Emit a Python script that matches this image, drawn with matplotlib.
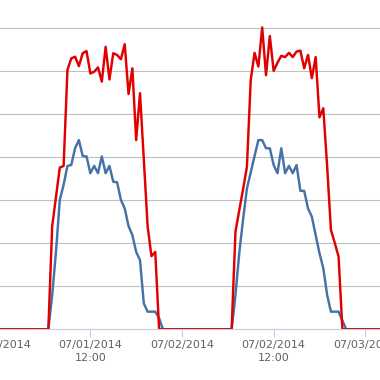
import pandas as pd
import matplotlib
matplotlib.use("Agg")
from matplotlib import pyplot as plt

# half-hourly readings, 06:30 -> 21:30 each day
day1_red = [0, 2390, 3080, 3760, 3800, 6030, 6300, 6340, 6120, 6420,
            6470, 5950, 5990, 6090, 5760, 6570, 5810, 6420, 6380, 6280,
            6630, 5470, 6070, 4400, 5490, 3950, 2390, 1700, 1800, 0, 0]
day1_blue = [0, 790, 1800, 3010, 3360, 3800, 3820, 4210, 4400, 4030,
             4020, 3630, 3800, 3630, 4020, 3630, 3800, 3430, 3420, 3010,
             2810, 2400, 2190, 1800, 1610, 600, 410, 410, 410, 260, 0]
day2_red = [0, 2270, 2770, 3260, 3780, 5800, 6430, 6110, 7020, 5910,
            6820, 6010, 6200, 6360, 6330, 6430, 6330, 6460, 6480, 6070,
            6380, 5840, 6330, 4930, 5140, 3800, 2310, 2010, 1690, 0, 0]
day2_blue = [0, 800, 1780, 2560, 3270, 3650, 4030, 4400, 4400, 4210,
             4210, 3820, 3630, 4210, 3630, 3800, 3630, 3820, 3220, 3220,
             2810, 2620, 2190, 1770, 1420, 800, 410, 410, 410, 200, 0]

tick_times = ["2014-07-01 00:00", "2014-07-01 12:00", "2014-07-02 00:00",
              "2014-07-02 12:00", "2014-07-03 00:00"]
tick_labels = ["07/01/2014", "07/01/2014\n12:00", "07/02/2014",
               "07/02/2014\n12:00", "07/03/2014"]

full_index = pd.date_range("2014-06-30 20:00", "2014-07-03 04:00", freq="30min")
day1_index = pd.date_range("2014-07-01 06:30", periods=len(day1_red), freq="30min")
day2_index = pd.date_range("2014-07-02 06:30", periods=len(day2_red), freq="30min")

red = pd.concat([pd.Series(day1_red, day1_index), pd.Series(day2_red, day2_index)])
blue = pd.concat([pd.Series(day1_blue, day1_index), pd.Series(day2_blue, day2_index)])
red = red.reindex(full_index, fill_value=0)
blue = blue.reindex(full_index, fill_value=0)

W = 380
fig = plt.figure(figsize=(3.8, 3.8), dpi=100)
# plot area runs off both image edges
px_per_hour = 183.3 / 24
left_px = -1.3
right_hours = (W - left_px) / px_per_hour
ax = fig.add_axes([left_px / W, (380 - 329.3) / 380, (W - left_px) / W, 329.3 / 380])

t0 = pd.Timestamp("2014-07-01 00:00")
ax.set_xlim(t0, t0 + pd.Timedelta(hours=right_hours))
ax.set_ylim(0, 329.3 / 43 * 1000)

ax.plot(blue.index, blue.values, color="#4572A7", lw=1.75, solid_joinstyle="round")
ax.plot(red.index, red.values, color="#E00000", lw=1.75, solid_joinstyle="round")

ax.set_yticks(range(0, 8000, 1000))
ax.grid(axis="y", color="#C0C0C0", lw=0.8)
ax.set_axisbelow(True)
ax.tick_params(axis="y", length=0, labelleft=False)

ax.set_xticks(pd.to_datetime(tick_times))
ax.set_xticklabels(tick_labels)
ax.tick_params(axis="x", direction="out", length=6, width=0.8, color="#C0D0E0",
               labelcolor="#606060", labelsize=8, pad=2)
for lab in ax.get_xticklabels():
    lab.set_linespacing(1.35)

for side in ["left", "right", "top"]:
    ax.spines[side].set_visible(False)
ax.spines["bottom"].set_color("#C0D0E0")
ax.spines["bottom"].set_linewidth(0.8)

fig.savefig("out.png", dpi=100)
